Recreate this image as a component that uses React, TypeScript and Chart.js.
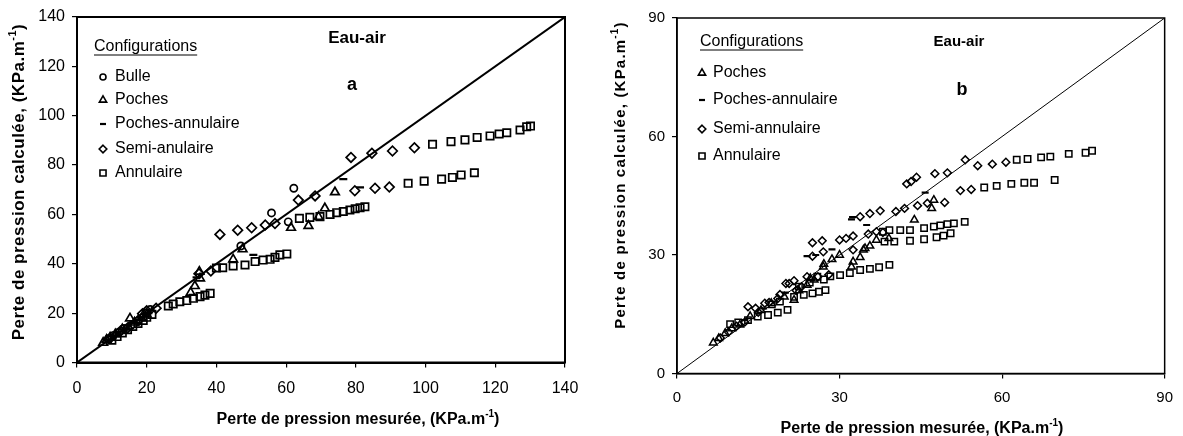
import React, { useEffect, useRef } from "react";
import { Chart, registerables } from "chart.js";

Chart.register(...registerables);

const FONT = '"Liberation Sans", Arial, sans-serif';

// ---------- texts ----------
const LEGEND_TITLE = "Configurations";
const FLUID = "Eau-air";
const X_TITLE = "Perte de pression mesurée, (KPa.m";
const Y_TITLE = "Perte de pression calculée, (KPa.m";
const SUP = "-1";
const CLOSE = ")";
const A_LETTER = "a";
const B_LETTER = "b";
const A_LEGEND = ["Bulle", "Poches", "Poches-annulaire", "Semi-anulaire", "Annulaire"];
const B_LEGEND = ["Poches", "Poches-annulaire", "Semi-annulaire", "Annulaire"];

// ---------- axes ----------
const A_MAX = 140;
const A_STEP = 20;
const B_MAX = 90;
const B_STEP = 30;
const A_DIAG: [number, number][] = [[0, 0], [140, 140]];
const B_DIAG: [number, number][] = [[0, 0], [90, 90]];

// ---------- chart a data [measured, calculated] ----------
const A_BULLE: [number, number][] = [
  [9.0, 9.6], [10.5, 11.0], [12.0, 12.3], [13.5, 13.8], [15.5, 15.0], [17.5, 16.8],
  [19.0, 18.5], [20.0, 20.2], [21.0, 21.5], [47.0, 47.2], [55.8, 60.6], [60.6, 57.0], [62.2, 70.6],
];
const A_POCHES: [number, number][] = [
  [7.5, 8.0], [8.5, 9.2], [9.5, 10.2], [11.0, 11.5], [13.0, 13.5], [15.2, 17.9], [16.5, 16.2],
  [18.5, 18.0], [20.0, 19.5], [32.6, 28.3], [33.8, 31.0], [35.3, 34.1], [35.1, 36.8], [44.8, 41.8],
  [47.5, 45.9], [61.4, 54.6], [66.4, 55.4], [69.3, 59.0], [71.1, 62.5], [74.0, 69.0],
];
const A_POCHES_ANN: [number, number][] = [
  [11.5, 11.0], [14.0, 13.5], [17.0, 16.0], [20.5, 20.0], [34.3, 34.5], [50.6, 43.6], [76.4, 74.3], [81.2, 71.0],
];
const A_SEMI: [number, number][] = [
  [9.5, 9.8], [12.5, 12.8], [14.5, 14.0], [17.5, 17.0], [18.8, 19.8], [20.0, 21.0], [22.7, 22.0],
  [35.0, 36.0], [38.4, 37.1], [41.0, 51.9], [46.1, 53.6], [50.1, 54.6], [54.0, 55.7], [56.8, 56.3],
  [63.5, 65.8], [68.3, 67.5], [78.6, 83.1], [79.7, 69.6], [84.6, 84.8], [85.5, 70.6], [89.6, 71.1],
  [90.5, 85.7], [96.8, 87.0],
];
const A_ANNULAIRE: [number, number][] = [
  [10.0, 9.0], [11.5, 10.5], [13.0, 12.0], [14.5, 13.3], [16.0, 14.6], [17.5, 15.8], [19.0, 17.0],
  [20.0, 18.3], [21.5, 19.5],
  [26.2, 22.9], [27.6, 23.7], [29.5, 24.6], [31.5, 25.1], [33.4, 26.0], [35.3, 26.7], [36.7, 27.3], [38.2, 28.0],
  [40.0, 38.3], [41.8, 38.4], [44.8, 39.1], [48.2, 39.5], [51.1, 40.9], [53.4, 41.5], [55.4, 41.8],
  [56.8, 42.6], [58.2, 43.6], [60.2, 44.0],
  [63.8, 58.4], [66.8, 58.8], [69.7, 59.1], [72.6, 60.0], [74.5, 60.7], [76.4, 61.2], [78.3, 61.8],
  [79.8, 62.3], [81.2, 62.7], [82.6, 63.1],
  [95.0, 72.6], [99.6, 73.5], [104.6, 74.3], [107.7, 75.0], [110.2, 76.0], [114.0, 76.9],
  [102.0, 88.4], [107.3, 89.5], [111.3, 90.2], [114.8, 91.2], [118.5, 91.8], [121.1, 92.6],
  [123.3, 93.1], [127.1, 94.2], [129.0, 95.5], [130.1, 95.8],
];

// ---------- chart b data ----------
const B_POCHES: [number, number][] = [
  [6.7, 7.8], [7.7, 8.9], [8.9, 10.2], [10.1, 11.4], [11.6, 12.3], [13.5, 14.5], [15.5, 16.0],
  [17.4, 17.8], [19.8, 19.4], [21.6, 18.6], [22.5, 21.0], [24.0, 22.4], [24.6, 24.1], [25.3, 23.7],
  [27.0, 27.0], [27.1, 27.7], [28.6, 28.9], [30.0, 30.0], [32.2, 27.0], [32.5, 28.3], [33.8, 29.4],
  [34.4, 31.3], [34.7, 31.7], [35.6, 32.3], [36.8, 33.8], [39.1, 34.2], [43.8, 38.9], [47.0, 41.8], [47.4, 43.9],
];
const B_POCHES_ANN: [number, number][] = [
  [12.5, 13.5], [16.0, 16.5], [20.0, 20.5], [24.0, 29.7], [25.6, 30.0], [28.6, 31.4], [32.2, 39.0],
  [32.4, 39.6], [35.0, 37.6], [45.8, 45.8],
];
const B_SEMI: [number, number][] = [
  [8.0, 9.0], [9.5, 10.5], [11.0, 12.0], [12.5, 13.0], [13.1, 16.9], [14.5, 16.5], [15.0, 15.5],
  [16.2, 17.8], [17.0, 18.0], [18.6, 19.0], [19.0, 20.0], [20.1, 22.8], [20.7, 22.8], [21.6, 23.5],
  [22.0, 21.0], [23.0, 22.0], [24.0, 24.5], [26.0, 24.5], [28.0, 25.0], [25.0, 33.1], [26.8, 33.6],
  [25.0, 29.7], [27.0, 30.8], [30.0, 33.8], [31.2, 34.2], [32.5, 34.8], [32.5, 31.3], [33.8, 39.7],
  [35.6, 40.5], [37.5, 41.2], [35.3, 35.3], [36.8, 35.9], [38.0, 35.7], [40.4, 41.0], [42.0, 41.8],
  [44.4, 42.5], [46.2, 43.1], [49.4, 43.3], [52.3, 46.3], [54.3, 46.6], [42.4, 48.0], [43.2, 48.6],
  [44.2, 49.7], [47.6, 50.6], [49.9, 50.8], [53.2, 54.1], [55.5, 52.6], [58.2, 53.0], [60.7, 53.5],
];
const B_ANNULAIRE: [number, number][] = [
  [9.8, 12.5], [11.3, 12.9], [13.1, 13.5], [14.9, 14.4], [16.8, 14.8], [18.6, 15.4], [20.4, 16.1],
  [17.5, 17.5], [19.0, 18.2], [21.6, 19.4], [23.4, 19.9], [25.0, 20.3], [26.2, 20.7], [27.4, 21.1],
  [22.5, 22.0], [24.5, 23.0],
  [25.9, 24.5], [27.1, 23.8], [28.3, 24.6], [30.1, 24.9], [31.9, 25.4], [33.8, 26.2], [35.6, 26.5],
  [37.3, 26.9], [39.2, 27.5],
  [38.3, 33.4], [40.1, 33.4], [43.0, 33.6], [45.6, 34.0], [47.9, 34.5], [49.2, 34.9], [50.5, 35.5],
  [38.0, 35.9], [39.2, 36.3], [41.2, 36.3], [43.0, 36.3], [45.6, 36.8], [47.4, 37.2], [48.6, 37.5],
  [49.9, 37.8], [51.1, 38.0], [53.1, 38.4],
  [56.7, 47.1], [59.0, 47.5], [61.7, 48.0], [64.1, 48.3], [65.9, 48.3], [69.7, 49.0],
  [62.7, 54.1], [64.7, 54.3], [67.2, 54.7], [68.9, 54.9], [72.3, 55.6], [75.4, 55.9], [76.6, 56.4],
];

type Marker = { style: string; r: number; bw: number };

const pts = (arr: [number, number][]) => arr.map(([x, y]) => ({ x, y }));

function drawMarker(ctx: CanvasRenderingContext2D, m: Marker, x: number, y: number) {
  ctx.save();
  ctx.strokeStyle = "#000";
  ctx.lineWidth = m.bw;
  ctx.beginPath();
  const r = m.r;
  if (m.style === "circle") {
    ctx.arc(x, y, r, 0, Math.PI * 2);
  } else if (m.style === "triangle") {
    ctx.moveTo(x, y - r);
    ctx.lineTo(x + r * 0.866, y + r * 0.5);
    ctx.lineTo(x - r * 0.866, y + r * 0.5);
    ctx.closePath();
  } else if (m.style === "line") {
    ctx.moveTo(x - r, y);
    ctx.lineTo(x + r, y);
  } else if (m.style === "rectRot") {
    ctx.moveTo(x, y - r);
    ctx.lineTo(x + r, y);
    ctx.lineTo(x, y + r);
    ctx.lineTo(x - r, y);
    ctx.closePath();
  } else {
    const s = r * Math.SQRT1_2;
    ctx.rect(x - s, y - s, 2 * s, 2 * s);
  }
  ctx.stroke();
  ctx.restore();
}

function drawAxisTitle(
  ctx: CanvasRenderingContext2D, main: string, cx: number, cy: number,
  rot: number, size: number, spacing: number
) {
  ctx.save();
  ctx.translate(cx, cy);
  ctx.rotate(rot);
  ctx.fillStyle = "#000";
  ctx.textBaseline = "middle";
  ctx.textAlign = "left";
  (ctx as any).letterSpacing = `${spacing}px`;
  const big = `bold ${size}px ${FONT}`;
  const small = `bold ${Math.round(size * 0.65)}px ${FONT}`;
  ctx.font = big;
  const w1 = ctx.measureText(main).width;
  const w3 = ctx.measureText(CLOSE).width;
  ctx.font = small;
  const w2 = ctx.measureText(SUP).width;
  let x = -(w1 + w2 + w3) / 2;
  ctx.font = big;
  ctx.fillText(main, x, 0);
  x += w1;
  ctx.font = small;
  ctx.fillText(SUP, x, -size * 0.38);
  x += w2;
  ctx.font = big;
  ctx.fillText(CLOSE, x, 0);
  ctx.restore();
}

type Panel = {
  max: number;
  step: number;
  diag: [number, number][];
  diagWidth: number;
  series: { label: string; data: [number, number][]; marker: Marker; legend: Marker }[];
  padRight: number;
  padTop: number;
  yWidth: number;
  xHeight: number;
  tickSize: number;
  xTickPad: number;
  frameWidth: number;
  legendTitle: { x: number; y: number };
  legendMarkerX: number;
  legendTextX: number;
  legendYs: number[];
  fluid: { x: number; y: number; size: number };
  letter: { text: string; x: number; y: number; size: number };
  xTitle: { x: number; y: number; size: number; spacing: number };
  yTitle: { x: number; y: number; size: number; spacing: number };
};

function buildConfig(p: Panel): any {
  const datasets: any[] = p.series.map((s) => ({
    label: s.label,
    data: pts(s.data),
    pointStyle: s.marker.style,
    pointRadius: s.marker.r,
    pointBorderWidth: s.marker.bw,
    borderColor: "#000",
    backgroundColor: "rgba(0,0,0,0)",
    showLine: false,
  }));
  datasets.push({
    label: "diag",
    data: pts(p.diag),
    showLine: true,
    pointRadius: 0,
    borderColor: "#000",
    borderWidth: p.diagWidth,
    backgroundColor: "rgba(0,0,0,0)",
  });

  const deco = {
    id: "deco",
    afterDraw(chart: any) {
      const ctx: CanvasRenderingContext2D = chart.ctx;
      const a = chart.chartArea;
      ctx.save();
      ctx.strokeStyle = "#000";
      ctx.lineWidth = p.frameWidth;
      ctx.strokeRect(a.left, a.top, a.right - a.left, a.bottom - a.top);

      // legend
      ctx.fillStyle = "#000";
      ctx.textBaseline = "middle";
      ctx.textAlign = "left";
      ctx.font = `16px ${FONT}`;
      ctx.fillText(LEGEND_TITLE, p.legendTitle.x, p.legendTitle.y);
      const tw = ctx.measureText(LEGEND_TITLE).width;
      ctx.lineWidth = 1.2;
      ctx.beginPath();
      ctx.moveTo(p.legendTitle.x, p.legendTitle.y + 8);
      ctx.lineTo(p.legendTitle.x + tw, p.legendTitle.y + 8);
      ctx.stroke();
      p.series.forEach((s, i) => {
        const y = p.legendYs[i];
        drawMarker(ctx, s.legend, p.legendMarkerX, y);
        ctx.fillStyle = "#000";
        ctx.font = `16px ${FONT}`;
        ctx.fillText(s.label, p.legendTextX, y);
      });

      ctx.textAlign = "center";
      ctx.font = `bold ${p.fluid.size}px ${FONT}`;
      ctx.fillText(FLUID, p.fluid.x, p.fluid.y);
      ctx.font = `bold ${p.letter.size}px ${FONT}`;
      ctx.fillText(p.letter.text, p.letter.x, p.letter.y);
      ctx.restore();

      drawAxisTitle(ctx, X_TITLE, p.xTitle.x, p.xTitle.y, 0, p.xTitle.size, p.xTitle.spacing);
      drawAxisTitle(ctx, Y_TITLE, p.yTitle.x, p.yTitle.y, -Math.PI / 2, p.yTitle.size, p.yTitle.spacing);
    },
  };

  const axis = (isX: boolean) => ({
    type: "linear",
    min: 0,
    max: p.max,
    ticks: {
      stepSize: p.step,
      autoSkip: false,
      maxRotation: 0,
      padding: isX ? p.xTickPad : 7,
      color: "#000",
      font: { family: FONT, size: p.tickSize },
    },
    grid: {
      display: true,
      drawOnChartArea: false,
      drawTicks: true,
      tickLength: 5,
      color: "#000",
      lineWidth: 1.2,
    },
    border: { display: true, color: "#000", width: p.frameWidth },
    afterFit: (s: any) => {
      if (isX) s.height = p.xHeight;
      else s.width = p.yWidth;
    },
  });

  return {
    type: "scatter",
    data: { datasets },
    options: {
      responsive: false,
      animation: false,
      events: [],
      devicePixelRatio: 1,
      layout: { padding: { left: 0, right: p.padRight, top: p.padTop, bottom: 0 } },
      plugins: { legend: { display: false }, tooltip: { enabled: false } },
      scales: { x: axis(true), y: axis(false) },
    },
    plugins: [deco],
  };
}

const panelA: Panel = {
  max: A_MAX,
  step: A_STEP,
  diag: A_DIAG,
  diagWidth: 2,
  series: [
    { label: A_LEGEND[0], data: A_BULLE, marker: { style: "circle", r: 3.6, bw: 1.7 }, legend: { style: "circle", r: 3, bw: 1.6 } },
    { label: A_LEGEND[1], data: A_POCHES, marker: { style: "triangle", r: 5, bw: 1.7 }, legend: { style: "triangle", r: 4.2, bw: 1.6 } },
    { label: A_LEGEND[2], data: A_POCHES_ANN, marker: { style: "line", r: 4, bw: 2.2 }, legend: { style: "line", r: 3, bw: 2.2 } },
    { label: A_LEGEND[3], data: A_SEMI, marker: { style: "rectRot", r: 4.8, bw: 1.7 }, legend: { style: "rectRot", r: 3.8, bw: 1.6 } },
    { label: A_LEGEND[4], data: A_ANNULAIRE, marker: { style: "rect", r: 5.2, bw: 1.7 }, legend: { style: "rect", r: 4.3, bw: 1.6 } },
  ],
  padRight: 35,
  padTop: 17,
  yWidth: 77,
  xHeight: 73.5,
  tickSize: 16,
  xTickPad: 11,
  frameWidth: 2,
  legendTitle: { x: 94, y: 47 },
  legendMarkerX: 103,
  legendTextX: 115,
  legendYs: [77, 100, 124, 149, 173],
  fluid: { x: 357, y: 38, size: 17 },
  letter: { text: A_LETTER, x: 352, y: 85, size: 18 },
  xTitle: { x: 358, y: 420, size: 16, spacing: 0 },
  yTitle: { x: 19, y: 182, size: 17, spacing: 0.5 },
};

const panelB: Panel = {
  max: B_MAX,
  step: B_STEP,
  diag: B_DIAG,
  diagWidth: 1,
  series: [
    { label: B_LEGEND[0], data: B_POCHES, marker: { style: "triangle", r: 4.4, bw: 1.5 }, legend: { style: "triangle", r: 4.2, bw: 1.6 } },
    { label: B_LEGEND[1], data: B_POCHES_ANN, marker: { style: "line", r: 3.5, bw: 2.2 }, legend: { style: "line", r: 3, bw: 2.2 } },
    { label: B_LEGEND[2], data: B_SEMI, marker: { style: "rectRot", r: 3.9, bw: 1.5 }, legend: { style: "rectRot", r: 3.8, bw: 1.6 } },
    { label: B_LEGEND[3], data: B_ANNULAIRE, marker: { style: "rect", r: 4.5, bw: 1.5 }, legend: { style: "rect", r: 4.3, bw: 1.6 } },
  ],
  padRight: 11,
  padTop: 18,
  yWidth: 77,
  xHeight: 62.5,
  tickSize: 15,
  xTickPad: 10,
  frameWidth: 1.5,
  legendTitle: { x: 100, y: 42 },
  legendMarkerX: 102,
  legendTextX: 113,
  legendYs: [73, 100, 129, 156],
  fluid: { x: 359, y: 42, size: 15 },
  letter: { text: B_LETTER, x: 362, y: 90, size: 18 },
  xTitle: { x: 322, y: 429, size: 16, spacing: 0 },
  yTitle: { x: 21, y: 175, size: 15, spacing: 1.2 },
};

export default function App() {
  const refA = useRef<HTMLCanvasElement>(null);
  const refB = useRef<HTMLCanvasElement>(null);
  useEffect(() => {
    const a = new Chart(refA.current as HTMLCanvasElement, buildConfig(panelA));
    const b = new Chart(refB.current as HTMLCanvasElement, buildConfig(panelB));
    return () => {
      a.destroy();
      b.destroy();
    };
  }, []);
  return (
    <div style={{ position: "absolute", left: 0, top: 0, width: 1183, height: 436, background: "#fff" }}>
      <canvas ref={refA} width={600} height={436} style={{ position: "absolute", left: 0, top: 0, width: 600, height: 436 }} />
      <canvas ref={refB} width={583} height={436} style={{ position: "absolute", left: 600, top: 0, width: 583, height: 436 }} />
    </div>
  );
}
